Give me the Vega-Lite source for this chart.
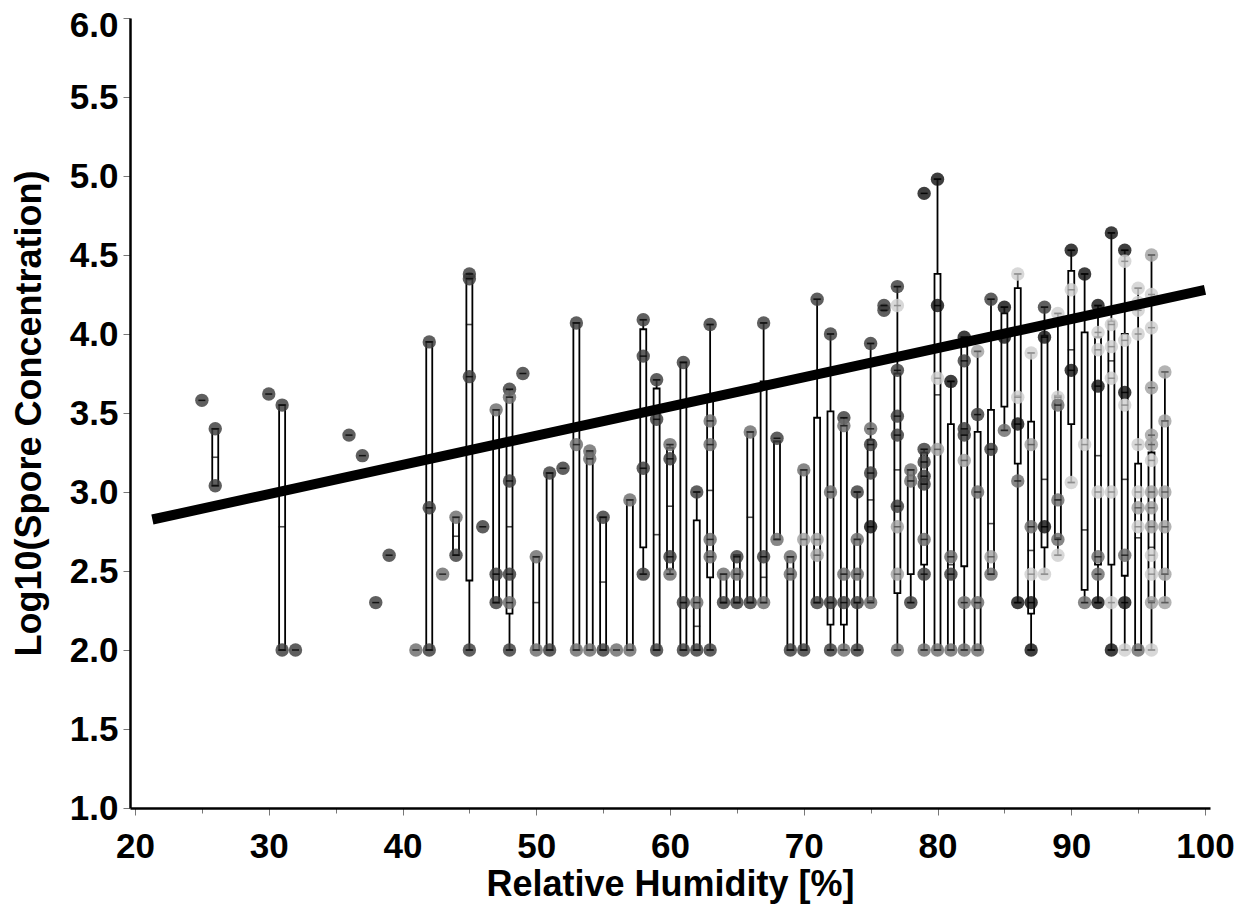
{
"$schema":"https://vega.github.io/schema/vega-lite/v6.json",
"width":1080,"height":790,"autosize":"none",
"padding":{"left":130,"top":18,"right":31,"bottom":107},
"background":"white",
"config":{"view":{"stroke":null},"axis":{"labelFont":"Liberation Sans","labelFontWeight":"bold","labelFontSize":35,"labelColor":"#000","titleFont":"Liberation Sans","titleFontWeight":"bold","titleFontSize":36,"titleColor":"#000","grid":false,"domainColor":"#000","domainWidth":2.5,"tickColor":"#777","tickWidth":1,"labelOverlap":false}},
"datasets":{
"points":[
{"rh":25,"conc":3.58,"grp":2},{"rh":26,"conc":3.40,"grp":2},{"rh":26,"conc":3.04,"grp":2},{"rh":30,"conc":3.62,"grp":2},{"rh":31,"conc":3.55,"grp":2},{"rh":31,"conc":2.0,"grp":2},{"rh":32,"conc":2.0,"grp":2},{"rh":36,"conc":3.36,"grp":2},{"rh":37,"conc":3.23,"grp":2},{"rh":38,"conc":2.30,"grp":2},{"rh":39,"conc":2.60,"grp":2},{"rh":41,"conc":2.0,"grp":3},
{"rh":42,"conc":3.95,"grp":2},{"rh":42,"conc":2.90,"grp":2},{"rh":42,"conc":2.0,"grp":2},{"rh":43,"conc":2.48,"grp":3},{"rh":44,"conc":2.84,"grp":3},{"rh":44,"conc":2.60,"grp":2},
{"rh":45,"conc":4.38,"grp":2},{"rh":45,"conc":4.35,"grp":2},{"rh":45,"conc":3.73,"grp":2},{"rh":45,"conc":2.0,"grp":2},{"rh":46,"conc":2.78,"grp":2},
{"rh":47,"conc":3.52,"grp":3},{"rh":47,"conc":2.48,"grp":2},{"rh":47,"conc":2.30,"grp":2},
{"rh":48,"conc":3.65,"grp":2},{"rh":48,"conc":3.60,"grp":3},{"rh":48,"conc":3.07,"grp":2},{"rh":48,"conc":2.48,"grp":2},{"rh":48,"conc":2.30,"grp":3},{"rh":48,"conc":2.0,"grp":2},
{"rh":49,"conc":3.75,"grp":2},{"rh":50,"conc":2.59,"grp":3},{"rh":50,"conc":2.0,"grp":3},{"rh":51,"conc":3.12,"grp":2},{"rh":51,"conc":2.0,"grp":2},{"rh":52,"conc":3.15,"grp":2},
{"rh":53,"conc":4.07,"grp":2},{"rh":53,"conc":3.30,"grp":3},{"rh":53,"conc":2.0,"grp":3},{"rh":54,"conc":3.26,"grp":3},{"rh":54,"conc":3.21,"grp":3},{"rh":54,"conc":2.0,"grp":3},
{"rh":55,"conc":2.84,"grp":2},{"rh":55,"conc":2.0,"grp":2},{"rh":56,"conc":2.0,"grp":3},{"rh":57,"conc":2.95,"grp":3},{"rh":57,"conc":2.0,"grp":3},
{"rh":58,"conc":4.09,"grp":2},{"rh":58,"conc":3.86,"grp":2},{"rh":58,"conc":3.15,"grp":2},{"rh":58,"conc":2.48,"grp":2},
{"rh":59,"conc":3.71,"grp":2},{"rh":59,"conc":3.46,"grp":2},{"rh":59,"conc":2.0,"grp":2},
{"rh":60,"conc":3.30,"grp":3},{"rh":60,"conc":3.21,"grp":2},{"rh":60,"conc":2.59,"grp":2},{"rh":60,"conc":2.48,"grp":3},
{"rh":61,"conc":3.82,"grp":2},{"rh":61,"conc":2.30,"grp":2},{"rh":61,"conc":2.0,"grp":2},
{"rh":62,"conc":3.0,"grp":2},{"rh":62,"conc":2.30,"grp":3},{"rh":62,"conc":2.0,"grp":2},
{"rh":63,"conc":4.06,"grp":2},{"rh":63,"conc":3.45,"grp":3},{"rh":63,"conc":3.30,"grp":3},{"rh":63,"conc":2.70,"grp":3},{"rh":63,"conc":2.59,"grp":3},{"rh":63,"conc":2.0,"grp":2},
{"rh":64,"conc":2.48,"grp":3},{"rh":64,"conc":2.30,"grp":2},{"rh":65,"conc":2.59,"grp":2},{"rh":65,"conc":2.48,"grp":3},{"rh":65,"conc":2.30,"grp":2},
{"rh":66,"conc":3.38,"grp":3},{"rh":66,"conc":2.30,"grp":2},{"rh":67,"conc":4.07,"grp":2},{"rh":67,"conc":2.59,"grp":2},{"rh":67,"conc":2.30,"grp":3},
{"rh":68,"conc":3.34,"grp":2},{"rh":68,"conc":2.70,"grp":3},{"rh":69,"conc":2.59,"grp":3},{"rh":69,"conc":2.48,"grp":3},{"rh":69,"conc":2.0,"grp":2},
{"rh":70,"conc":3.14,"grp":3},{"rh":70,"conc":2.70,"grp":4},{"rh":70,"conc":2.0,"grp":2},
{"rh":71,"conc":4.22,"grp":2},{"rh":71,"conc":2.70,"grp":4},{"rh":71,"conc":2.60,"grp":4},{"rh":71,"conc":2.30,"grp":2},
{"rh":72,"conc":4.0,"grp":2},{"rh":72,"conc":3.0,"grp":3},{"rh":72,"conc":2.30,"grp":2},{"rh":72,"conc":2.0,"grp":2},
{"rh":73,"conc":3.47,"grp":2},{"rh":73,"conc":3.42,"grp":3},{"rh":73,"conc":2.48,"grp":3},{"rh":73,"conc":2.30,"grp":2},{"rh":73,"conc":2.0,"grp":3},
{"rh":74,"conc":3.0,"grp":2},{"rh":74,"conc":2.70,"grp":3},{"rh":74,"conc":2.48,"grp":3},{"rh":74,"conc":2.30,"grp":2},{"rh":74,"conc":2.0,"grp":2},
{"rh":75,"conc":3.94,"grp":2},{"rh":75,"conc":3.40,"grp":3},{"rh":75,"conc":3.30,"grp":2},{"rh":75,"conc":3.12,"grp":2},{"rh":75,"conc":2.78,"grp":1},{"rh":75,"conc":2.30,"grp":3},
{"rh":76,"conc":4.18,"grp":2},{"rh":76,"conc":4.15,"grp":2},
{"rh":77,"conc":4.30,"grp":2},{"rh":77,"conc":4.18,"grp":5},{"rh":77,"conc":3.77,"grp":2},{"rh":77,"conc":3.48,"grp":2},{"rh":77,"conc":3.36,"grp":2},{"rh":77,"conc":2.91,"grp":2},{"rh":77,"conc":2.78,"grp":4},{"rh":77,"conc":2.48,"grp":4},{"rh":77,"conc":2.0,"grp":3},
{"rh":78,"conc":3.14,"grp":3},{"rh":78,"conc":3.07,"grp":3},{"rh":78,"conc":2.30,"grp":2},
{"rh":79,"conc":4.89,"grp":1},{"rh":79,"conc":3.27,"grp":2},{"rh":79,"conc":3.19,"grp":2},{"rh":79,"conc":3.10,"grp":2},{"rh":79,"conc":3.05,"grp":2},{"rh":79,"conc":2.70,"grp":3},{"rh":79,"conc":2.48,"grp":2},{"rh":79,"conc":2.0,"grp":3},
{"rh":80,"conc":4.98,"grp":1},{"rh":80,"conc":4.18,"grp":1},{"rh":80,"conc":3.72,"grp":5},{"rh":80,"conc":3.27,"grp":4},{"rh":80,"conc":2.0,"grp":3},
{"rh":81,"conc":3.70,"grp":1},{"rh":81,"conc":2.59,"grp":3},{"rh":81,"conc":2.48,"grp":2},{"rh":81,"conc":2.0,"grp":3},
{"rh":82,"conc":3.98,"grp":1},{"rh":82,"conc":3.83,"grp":2},{"rh":82,"conc":3.40,"grp":2},{"rh":82,"conc":3.36,"grp":2},{"rh":82,"conc":3.20,"grp":4},{"rh":82,"conc":2.30,"grp":3},{"rh":82,"conc":2.0,"grp":3},
{"rh":83,"conc":3.89,"grp":4},{"rh":83,"conc":3.49,"grp":2},{"rh":83,"conc":3.0,"grp":3},{"rh":83,"conc":2.30,"grp":3},{"rh":83,"conc":2.0,"grp":3},
{"rh":84,"conc":4.22,"grp":2},{"rh":84,"conc":3.27,"grp":2},{"rh":84,"conc":2.59,"grp":4},{"rh":84,"conc":2.48,"grp":3},
{"rh":85,"conc":4.17,"grp":1},{"rh":85,"conc":3.98,"grp":1},{"rh":85,"conc":3.39,"grp":3},
{"rh":86,"conc":4.38,"grp":5},{"rh":86,"conc":3.60,"grp":5},{"rh":86,"conc":3.43,"grp":1},{"rh":86,"conc":3.07,"grp":3},{"rh":86,"conc":2.30,"grp":1},
{"rh":87,"conc":3.88,"grp":5},{"rh":87,"conc":3.30,"grp":4},{"rh":87,"conc":2.78,"grp":3},{"rh":87,"conc":2.48,"grp":5},{"rh":87,"conc":2.30,"grp":1},{"rh":87,"conc":2.0,"grp":1},
{"rh":88,"conc":4.17,"grp":2},{"rh":88,"conc":3.98,"grp":1},{"rh":88,"conc":2.78,"grp":1},{"rh":88,"conc":2.48,"grp":5},
{"rh":89,"conc":4.13,"grp":5},{"rh":89,"conc":3.60,"grp":5},{"rh":89,"conc":3.55,"grp":3},{"rh":89,"conc":2.95,"grp":3},{"rh":89,"conc":2.70,"grp":3},{"rh":89,"conc":2.60,"grp":5},
{"rh":90,"conc":4.53,"grp":1},{"rh":90,"conc":4.28,"grp":5},{"rh":90,"conc":3.77,"grp":1},{"rh":90,"conc":3.06,"grp":5},
{"rh":91,"conc":4.38,"grp":1},{"rh":91,"conc":3.30,"grp":5},{"rh":91,"conc":2.30,"grp":3},
{"rh":92,"conc":4.18,"grp":1},{"rh":92,"conc":4.01,"grp":5},{"rh":92,"conc":3.90,"grp":5},{"rh":92,"conc":3.67,"grp":1},{"rh":92,"conc":3.0,"grp":5},{"rh":92,"conc":2.59,"grp":3},{"rh":92,"conc":2.48,"grp":3},{"rh":92,"conc":2.30,"grp":1},
{"rh":93,"conc":4.64,"grp":1},{"rh":93,"conc":4.06,"grp":5},{"rh":93,"conc":3.92,"grp":5},{"rh":93,"conc":3.72,"grp":5},{"rh":93,"conc":3.0,"grp":5},{"rh":93,"conc":2.30,"grp":5},{"rh":93,"conc":2.0,"grp":1},
{"rh":94,"conc":4.53,"grp":1},{"rh":94,"conc":4.46,"grp":5},{"rh":94,"conc":3.96,"grp":5},{"rh":94,"conc":3.63,"grp":1},{"rh":94,"conc":3.55,"grp":5},{"rh":94,"conc":2.60,"grp":3},{"rh":94,"conc":2.30,"grp":1},{"rh":94,"conc":2.0,"grp":5},
{"rh":95,"conc":4.29,"grp":5},{"rh":95,"conc":4.20,"grp":5},{"rh":95,"conc":4.15,"grp":5},{"rh":95,"conc":4.0,"grp":5},{"rh":95,"conc":3.30,"grp":5},{"rh":95,"conc":3.0,"grp":5},{"rh":95,"conc":2.90,"grp":4},{"rh":95,"conc":2.78,"grp":5},{"rh":95,"conc":2.0,"grp":3},
{"rh":96,"conc":4.50,"grp":4},{"rh":96,"conc":4.25,"grp":5},{"rh":96,"conc":4.04,"grp":5},{"rh":96,"conc":3.66,"grp":4},{"rh":96,"conc":3.36,"grp":4},{"rh":96,"conc":3.30,"grp":4},{"rh":96,"conc":3.20,"grp":5},{"rh":96,"conc":3.0,"grp":4},{"rh":96,"conc":2.90,"grp":4},{"rh":96,"conc":2.78,"grp":4},{"rh":96,"conc":2.60,"grp":5},{"rh":96,"conc":2.48,"grp":5},{"rh":96,"conc":2.30,"grp":4},{"rh":96,"conc":2.0,"grp":5},
{"rh":97,"conc":3.76,"grp":4},{"rh":97,"conc":3.45,"grp":4},{"rh":97,"conc":3.0,"grp":4},{"rh":97,"conc":2.78,"grp":4},{"rh":97,"conc":2.48,"grp":4},{"rh":97,"conc":2.30,"grp":4}
],
"boxes":[
{"rh":26,"lo":3.04,"q1":3.04,"med":3.22,"q3":3.40,"hi":3.40},
{"rh":31,"lo":2.0,"q1":2.0,"med":2.78,"q3":3.55,"hi":3.55},
{"rh":42,"lo":2.0,"q1":2.0,"med":2.90,"q3":3.95,"hi":3.95},
{"rh":44,"lo":2.60,"q1":2.60,"med":2.72,"q3":2.84,"hi":2.84},
{"rh":45,"lo":2.0,"q1":2.44,"med":4.06,"q3":4.36,"hi":4.38},
{"rh":47,"lo":2.30,"q1":2.30,"med":2.48,"q3":3.52,"hi":3.52},
{"rh":48,"lo":2.0,"q1":2.23,"med":2.78,"q3":3.60,"hi":3.65},
{"rh":50,"lo":2.0,"q1":2.0,"med":2.30,"q3":2.59,"hi":2.59},
{"rh":51,"lo":2.0,"q1":2.0,"med":2.0,"q3":3.12,"hi":3.12},
{"rh":53,"lo":2.0,"q1":2.0,"med":2.0,"q3":4.07,"hi":4.07},
{"rh":54,"lo":2.0,"q1":2.0,"med":3.21,"q3":3.25,"hi":3.26},
{"rh":55,"lo":2.0,"q1":2.0,"med":2.43,"q3":2.84,"hi":2.84},
{"rh":57,"lo":2.0,"q1":2.0,"med":2.0,"q3":2.95,"hi":2.95},
{"rh":58,"lo":2.48,"q1":2.65,"med":3.15,"q3":4.03,"hi":4.09},
{"rh":59,"lo":2.0,"q1":2.0,"med":2.73,"q3":3.655,"hi":3.71},
{"rh":60,"lo":2.48,"q1":2.51,"med":2.91,"q3":3.28,"hi":3.30},
{"rh":61,"lo":2.0,"q1":2.0,"med":2.30,"q3":3.82,"hi":3.82},
{"rh":62,"lo":2.0,"q1":2.0,"med":2.15,"q3":2.82,"hi":3.0},
{"rh":63,"lo":2.0,"q1":2.46,"med":3.01,"q3":3.58,"hi":4.06},
{"rh":64,"lo":2.30,"q1":2.30,"med":2.30,"q3":2.48,"hi":2.48},
{"rh":65,"lo":2.30,"q1":2.30,"med":2.48,"q3":2.60,"hi":2.60},
{"rh":66,"lo":2.30,"q1":2.30,"med":2.84,"q3":3.38,"hi":3.38},
{"rh":67,"lo":2.30,"q1":2.30,"med":2.46,"q3":3.70,"hi":4.07},
{"rh":68,"lo":2.70,"q1":2.70,"med":2.70,"q3":3.32,"hi":3.32},
{"rh":69,"lo":2.0,"q1":2.0,"med":2.48,"q3":2.59,"hi":2.59},
{"rh":70,"lo":2.0,"q1":2.0,"med":2.70,"q3":3.14,"hi":3.14},
{"rh":71,"lo":2.30,"q1":2.30,"med":2.60,"q3":3.47,"hi":4.22},
{"rh":72,"lo":2.0,"q1":2.16,"med":2.30,"q3":3.51,"hi":4.0},
{"rh":73,"lo":2.0,"q1":2.16,"med":2.48,"q3":3.42,"hi":3.47},
{"rh":74,"lo":2.0,"q1":2.30,"med":2.48,"q3":2.70,"hi":3.0},
{"rh":75,"lo":2.30,"q1":2.31,"med":2.95,"q3":3.33,"hi":3.94},
{"rh":77,"lo":2.0,"q1":2.36,"med":3.14,"q3":3.75,"hi":4.30},
{"rh":78,"lo":2.30,"q1":2.48,"med":3.07,"q3":3.14,"hi":3.14},
{"rh":79,"lo":2.0,"q1":2.54,"med":3.05,"q3":3.25,"hi":3.27},
{"rh":80,"lo":2.0,"q1":2.0,"med":3.615,"q3":4.38,"hi":4.98},
{"rh":81,"lo":2.0,"q1":2.0,"med":2.54,"q3":3.43,"hi":3.70},
{"rh":82,"lo":2.0,"q1":2.53,"med":3.36,"q3":3.92,"hi":3.98},
{"rh":83,"lo":2.0,"q1":2.0,"med":2.30,"q3":3.38,"hi":3.89},
{"rh":84,"lo":2.48,"q1":2.48,"med":2.80,"q3":3.52,"hi":4.22},
{"rh":85,"lo":3.39,"q1":3.54,"med":3.98,"q3":4.13,"hi":4.17},
{"rh":86,"lo":2.30,"q1":3.18,"med":3.61,"q3":4.29,"hi":4.38},
{"rh":87,"lo":2.0,"q1":2.23,"med":2.63,"q3":3.445,"hi":3.88},
{"rh":88,"lo":2.48,"q1":2.65,"med":3.08,"q3":3.99,"hi":4.17},
{"rh":89,"lo":2.60,"q1":2.71,"med":2.95,"q3":3.61,"hi":4.13},
{"rh":90,"lo":3.06,"q1":3.43,"med":3.90,"q3":4.40,"hi":4.53},
{"rh":91,"lo":2.30,"q1":2.38,"med":2.76,"q3":4.01,"hi":4.38},
{"rh":92,"lo":2.30,"q1":2.54,"med":3.23,"q3":3.98,"hi":4.18},
{"rh":93,"lo":2.0,"q1":2.54,"med":3.83,"q3":4.08,"hi":4.64},
{"rh":94,"lo":2.0,"q1":2.47,"med":3.08,"q3":4.0,"hi":4.53},
{"rh":95,"lo":2.0,"q1":2.0,"med":2.71,"q3":3.18,"hi":4.29},
{"rh":96,"lo":2.0,"q1":2.31,"med":2.65,"q3":3.25,"hi":4.50},
{"rh":97,"lo":2.30,"q1":2.48,"med":2.78,"q3":3.45,"hi":3.76}
],
"fit":[{"rh":21.3,"fit":2.826},{"rh":100,"fit":4.28}]
},
"resolve":{"scale":{"color":"independent"}},
"layer":[
{"data":{"name":"boxes"},"mark":{"type":"rule","color":"#000","strokeWidth":1.8},
 "encoding":{
  "x":{"field":"rh","type":"quantitative","scale":{"domain":[20,100],"nice":false,"zero":false},
   "axis":{"title":"Relative Humidity [%]","values":[20,25,30,35,40,45,50,55,60,65,70,75,80,85,90,95,100],"labelExpr":"datum.value % 10 == 0 ? datum.label : ''","tickSize":{"condition":{"test":"datum.value % 10 == 0","value":7},"value":5},"labelPadding":14,"titlePadding":3}},
  "y":{"field":"lo","type":"quantitative","scale":{"domain":[1,6],"nice":false,"zero":false},
   "axis":{"title":"Log10(Spore Concentration)","values":[1,1.25,1.5,1.75,2,2.25,2.5,2.75,3,3.25,3.5,3.75,4,4.25,4.5,4.75,5,5.25,5.5,5.75,6],"labelExpr":"(datum.value*2) % 1 == 0 ? format(datum.value, '.1f') : ''","tickSize":{"condition":{"test":"(datum.value*2) % 1 == 0","value":7},"value":5},"labelOffset":{"condition":{"test":"datum.value == 6","value":7},"value":0},"labelPadding":5,"titlePadding":21}},
  "y2":{"field":"hi"}}},
{"data":{"name":"boxes"},"mark":{"type":"bar","size":6,"fill":"#fff","stroke":"#000","strokeWidth":1.8},
 "encoding":{"x":{"field":"rh","type":"quantitative","title":"Relative Humidity [%]"},"y":{"field":"q1","type":"quantitative","title":"Log10(Spore Concentration)"},"y2":{"field":"q3"}}},
{"data":{"name":"boxes"},"mark":{"type":"tick","orient":"horizontal","size":7,"thickness":1.6,"color":"#000"},
 "encoding":{"x":{"field":"rh","type":"quantitative","title":"Relative Humidity [%]"},"y":{"field":"med","type":"quantitative","title":"Log10(Spore Concentration)"}}},
{"data":{"name":"boxes"},"mark":{"type":"tick","orient":"horizontal","size":8,"thickness":1.8,"color":"#000"},
 "encoding":{"x":{"field":"rh","type":"quantitative","title":"Relative Humidity [%]"},"y":{"field":"lo","type":"quantitative","title":"Log10(Spore Concentration)"}}},
{"data":{"name":"boxes"},"mark":{"type":"tick","orient":"horizontal","size":8,"thickness":1.8,"color":"#000"},
 "encoding":{"x":{"field":"rh","type":"quantitative","title":"Relative Humidity [%]"},"y":{"field":"hi","type":"quantitative","title":"Log10(Spore Concentration)"}}},
{"data":{"name":"points"},"mark":{"type":"circle","size":180,"opacity":0.82},
 "encoding":{"x":{"field":"rh","type":"quantitative","title":"Relative Humidity [%]"},"y":{"field":"conc","type":"quantitative","title":"Log10(Spore Concentration)"},
  "color":{"field":"grp","type":"ordinal","scale":{"domain":[1,2,3,4,5],"range":["#141414","#3c3c3c","#6c6c6c","#a2a2a2","#d0d0d0"]},"legend":null}}},
{"data":{"name":"points"},"mark":{"type":"tick","orient":"horizontal","size":7,"thickness":1.5,"opacity":0.9},
 "encoding":{"x":{"field":"rh","type":"quantitative","title":"Relative Humidity [%]"},"y":{"field":"conc","type":"quantitative","title":"Log10(Spore Concentration)"},
  "color":{"field":"grp","type":"ordinal","scale":{"domain":[1,2,3,4,5],"range":["#000000","#0a0a0a","#1e1e1e","#555555","#8a8a8a"]},"legend":null}}},
{"data":{"name":"fit"},"mark":{"type":"line","color":"#000","strokeWidth":10,"strokeCap":"butt"},
 "encoding":{"x":{"field":"rh","type":"quantitative","title":"Relative Humidity [%]"},"y":{"field":"fit","type":"quantitative","title":"Log10(Spore Concentration)"}}}
]
}
